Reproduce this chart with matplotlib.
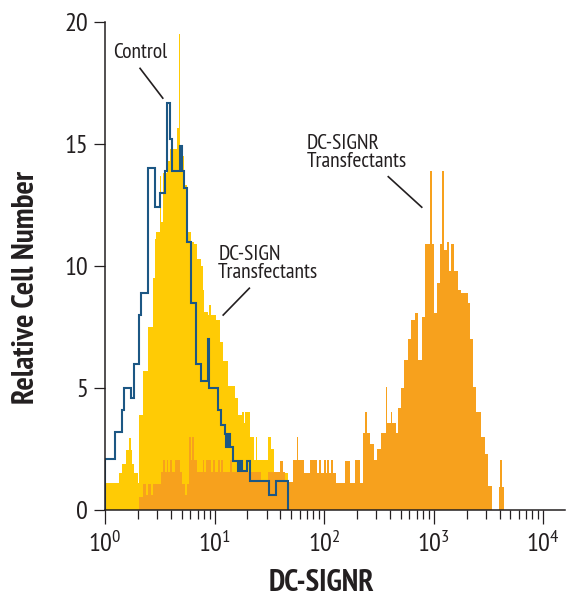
import numpy as np
import matplotlib
matplotlib.use('Agg')
import matplotlib.pyplot as plt
from matplotlib.ticker import FixedLocator, FuncFormatter, NullFormatter

# 256-channel log histogram, 64 channels per decade (10^0 .. 10^4)
CH_PER_DECADE = 64

# Control (blue outline), channels starting at 0
control_start = 0
control_counts = [
    2.1, 2.1, 2.1, 2.1, 2.1, 2.1, 3.2, 3.2, 3.2, 3.2,
    4.1, 5.0, 5.0, 5.0, 5.0, 4.6, 4.6, 6.0, 6.0, 6.0,
    8.0, 8.9, 8.9, 8.9, 8.9, 14.0, 14.0, 14.0, 14.0, 12.4,
    12.4, 12.4, 13.0, 13.0, 13.0, 13.9, 16.7, 16.7, 15.2, 13.9,
    13.9, 13.9, 13.9, 13.9, 14.9, 13.9, 13.2, 13.2, 11.0, 11.0,
    8.5, 8.5, 8.5, 6.0, 6.0, 6.0, 5.3, 5.3, 5.3, 5.3,
    7.0, 5.0, 5.0, 5.0, 5.0, 5.0, 4.1, 4.1, 3.5, 3.5,
    3.1, 2.6, 3.1, 2.6, 2.6, 2.0, 2.0, 2.0, 1.6, 2.0,
    1.6, 1.6, 1.6, 2.0, 2.0, 1.2, 1.2, 1.2, 1.2, 1.2,
    1.2, 1.2, 1.2, 1.2, 1.2, 1.2, 0.6, 0.6, 0.6, 0.6,
    1.2, 1.2, 1.2, 1.2, 1.2, 1.2, 1.2,
]

# DC-SIGN transfectants (yellow), channels starting at 0
dcsign_start = 0
dcsign_counts = [
    1.1, 1.1, 1.1, 1.1, 1.1, 1.1, 1.1, 1.1, 1.5, 1.5,
    1.9, 1.9, 2.45, 2.45, 2.95, 2.45, 1.9, 1.5, 1.5, 1.1,
    3.9, 3.9, 5.7, 5.7, 5.7, 7.5, 7.5, 7.5, 9.5, 11.1,
    11.4, 11.4, 13.7, 11.8, 13.8, 13.8, 14.3, 14.3, 14.8, 14.8,
    14.8, 14.8, 15.65, 19.5, 14.95, 14.5, 13.3, 13.3, 11.4, 11.4,
    11.0, 11.0, 10.9, 10.9, 10.3, 10.3, 10.0, 9.0, 8.1, 8.1,
    8.0, 8.4, 8.0, 8.0, 8.0, 7.8, 7.8, 6.9, 6.9, 6.1,
    6.1, 6.1, 5.1, 5.1, 5.1, 5.1, 4.6, 4.6, 3.9, 3.9,
    4.0, 3.55, 4.0, 4.0, 4.0, 3.0, 3.0, 2.05, 3.0, 2.05,
    2.05, 2.05, 2.05, 2.05, 2.05, 3.0, 3.0, 2.5, 2.5, 1.5,
    1.5, 1.5, 1.5, 1.5, 1.5, 1.5, 1.5,
]

# DC-SIGNR transfectants (orange), channels starting at 20
dcsignr_start = 20
dcsignr_counts = [
    0.55, 0.55, 1.07, 1.07, 0.6, 1.07, 1.07, 0.6, 1.07, 1.07,
    1.07, 1.07, 1.07, 1.55, 2.05, 1.55, 2.05, 1.55, 2.05, 1.55,
    1.55, 2.05, 2.05, 2.05, 1.55, 1.07, 1.07, 0.6, 1.07, 3.0,
    2.05, 3.0, 2.05, 2.05, 1.55, 1.55, 1.55, 2.05, 1.55, 2.05,
    2.05, 2.05, 1.55, 2.05, 1.55, 1.55, 2.05, 1.55, 2.05, 1.55,
    1.55, 1.55, 1.55, 2.05, 1.55, 1.55, 1.55, 2.05, 1.55, 1.55,
    1.55, 1.55, 1.55, 1.55, 1.55, 1.55, 1.55, 1.55, 1.55, 1.55,
    1.55, 1.16, 1.16, 1.16, 1.16, 1.55, 1.55, 1.55, 1.55, 1.55,
    1.55, 1.55, 2.0, 2.0, 1.55, 1.16, 1.16, 1.16, 1.16, 1.16,
    2.05, 2.05, 3.0, 2.05, 2.05, 2.05, 1.5, 1.5, 1.5, 1.5,
    2.05, 2.05, 2.05, 2.05, 1.5, 2.05, 1.5, 1.5, 2.05, 1.5,
    2.05, 1.5, 2.05, 1.5, 1.5, 1.1, 1.1, 1.1, 1.1, 1.1,
    2.0, 2.0, 2.0, 1.1, 1.1, 1.1, 2.05, 2.05, 2.05, 1.1,
    1.1, 3.15, 4.0, 3.15, 3.15, 2.7, 2.7, 2.05, 2.05, 2.5,
    2.5, 3.15, 3.15, 3.15, 5.05, 3.55, 3.55, 4.0, 3.55, 3.55,
    3.15, 4.2, 4.2, 5.0, 5.0, 6.15, 6.15, 7.0, 7.0, 7.8,
    7.8, 8.06, 8.06, 6.15, 6.15, 7.9, 7.9, 10.9, 10.9, 10.9,
    13.9, 10.9, 8.06, 8.06, 9.3, 9.3, 10.9, 13.9, 10.65, 10.65,
    11.0, 9.8, 10.9, 10.9, 9.8, 9.8, 9.0, 9.0, 8.9, 8.9,
    8.9, 8.9, 8.5, 7.0, 7.0, 5.05, 5.05, 4.0, 4.0, 4.0,
    3.0, 3.0, 2.3, 2.3, 1.0, 1.0, 0.0, 0.0, 0.0, 0.0,
    0.95, 2.05, 0.95,
]

YELLOW = '#ffcb05'
ORANGE = '#f7a11d'
BLUE = '#1c5784'
INK = '#231f20'


def channel_edges(start, counts):
    ch = np.arange(start, start + len(counts) + 1)
    return 10.0 ** (ch / CH_PER_DECADE)


plt.rcParams['font.family'] = ['PT Sans Narrow', 'DejaVu Sans']
plt.rcParams['mathtext.fontset'] = 'custom'
plt.rcParams['mathtext.rm'] = 'PT Sans Narrow'

fig = plt.figure(figsize=(5.75, 6.06), dpi=100)
ax = fig.add_axes([0.1826, 0.1584, 0.8, 0.8053])

ax.stairs(dcsign_counts, channel_edges(dcsign_start, dcsign_counts),
          fill=True, color=YELLOW, lw=0, zorder=1)
ax.stairs(dcsignr_counts, channel_edges(dcsignr_start, dcsignr_counts),
          fill=True, color=ORANGE, lw=0, zorder=2)
ax.stairs(control_counts, channel_edges(control_start, control_counts),
          fill=False, color=BLUE, lw=1.5, zorder=3)

ax.set_xscale('log')
ax.set_xlim(1, 10 ** 4.2)
ax.set_ylim(0, 20)

for s in ['top', 'right']:
    ax.spines[s].set_visible(False)
for s in ['left', 'bottom']:
    ax.spines[s].set_linewidth(1.1)
    ax.spines[s].set_color(INK)
    ax.spines[s].set_zorder(5)

ax.set_yticks([0, 5, 10, 15, 20])
ax.tick_params(axis='y', direction='out', length=8, width=0.9, pad=4,
               labelsize=19, colors=INK)
ax.xaxis.set_major_locator(FixedLocator([1, 10, 100, 1000, 10000]))
ax.xaxis.set_minor_locator(FixedLocator(
    [m * 10 ** d for d in range(4) for m in range(2, 10)]))
ax.xaxis.set_minor_formatter(NullFormatter())
ax.xaxis.set_major_formatter(FuncFormatter(
    lambda v, p: r'$\mathregular{10^{%d}}$' % round(np.log10(v))))
ax.tick_params(axis='x', which='major', direction='out', length=10,
               width=0.9, pad=5, labelsize=19, colors=INK)
ax.tick_params(axis='x', which='minor', direction='out', length=6.5,
               width=0.9, colors=INK)

ax.set_xlabel('DC-SIGNR', fontsize=22, fontweight='bold', color=INK)
ax.xaxis.set_label_coords(0.470, -0.121)
ax.set_ylabel('Relative Cell Number', fontsize=22.5, fontweight='bold',
              color=INK)
ax.yaxis.set_label_coords(-0.141, 0.457)

# annotations
ann = dict(fontsize=15.5, color=INK)
ax.text(2.09, 18.77, 'Control', ha='center', va='center', **ann)
ax.plot([2.09, 3.37], [18.1, 16.88], color=INK, lw=1.2)
ax.text(10.8, 10.1, 'DC-SIGN\nTransfectants', ha='left', va='center',
        linespacing=0.95, **ann)
ax.plot([20.8, 12.0], [9.09, 7.99], color=INK, lw=1.2)
ax.text(69.5, 14.65, 'DC-SIGNR\nTransfectants', ha='left', va='center',
        linespacing=0.95, **ann)
ax.plot([386, 780], [13.66, 12.41], color=INK, lw=1.2)

fig.savefig('out.png', dpi=100)
